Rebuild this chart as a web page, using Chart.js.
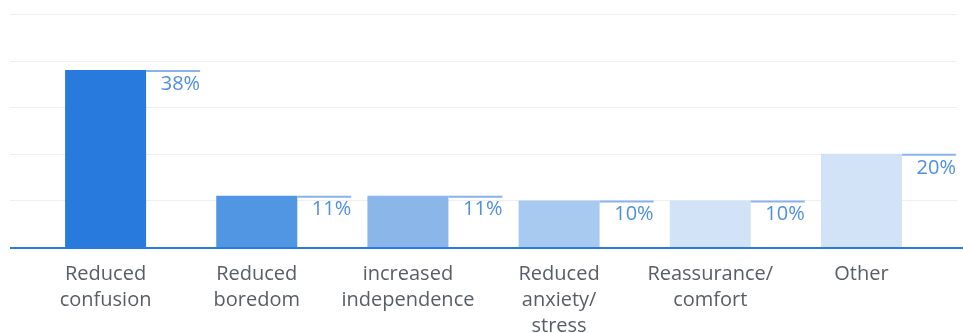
<!DOCTYPE html>
<html>
<head>
<meta charset="utf-8">
<script src="https://cdn.jsdelivr.net/npm/chart.js@4"></script>
<style>
  html, body { margin: 0; padding: 0; background: #fff; }
  .wrap { width: 963px; height: 333px; position: relative; }
</style>
</head>
<body>
<div class="wrap"><canvas id="benefits"></canvas></div>
<script>
// ─── Data ──────────────────────────────────────────────
const categories = [
    ['Reduced', 'confusion'],
    ['Reduced', 'boredom'],
    ['increased', 'independence'],
    ['Reduced', 'anxiety/', 'stress'],
    ['Reassurance/', 'comfort'],
    ['Other']
];
const shares = [38, 11, 11, 10, 10, 20];
const yTicks = [10, 20, 30, 40, 50];

// ─── Style ─────────────────────────────────────────────
const C = {
    bars:     ['#287BDC', '#5096E3', '#8AB6EA', '#A9CAF0', '#D2E3F7', '#D2E3F7'],
    axis:     '#2A7BDC',
    grid:     '#EFEFEF',
    label:    '#4F8FDD',
    leader:   '#8AB4E8',
    tick:     '#575E66',
    family:   "'Open Sans', sans-serif"
};

// horizontal guides and the blue baseline span wider than the bar area
const guides = {
    id: 'guides',
    beforeDatasetsDraw(chart) {
        const { ctx, scales: { y } } = chart;
        ctx.save();
        ctx.strokeStyle = C.grid;
        ctx.lineWidth = 1;
        yTicks.forEach(v => {
            const py = Math.round(y.getPixelForValue(v)) + 0.5;
            ctx.beginPath();
            ctx.moveTo(10, py);
            ctx.lineTo(957, py);
            ctx.stroke();
        });
        ctx.restore();
    },
    afterDatasetsDraw(chart) {
        const { ctx, scales: { y } } = chart;
        const py = y.getPixelForValue(0) + 1;
        ctx.save();
        ctx.strokeStyle = C.axis;
        ctx.lineWidth = 2;
        ctx.beginPath();
        ctx.moveTo(10, py);
        ctx.lineTo(963, py);
        ctx.stroke();
        ctx.restore();
    }
};

// percentage tag: a short rule off the bar top with the value under it
const tags = {
    id: 'tags',
    afterDatasetsDraw(chart) {
        const { ctx } = chart;
        const meta = chart.getDatasetMeta(0);
        ctx.save();
        meta.data.forEach((bar, i) => {
            const right = bar.x + bar.width / 2;
            ctx.strokeStyle = C.leader;
            ctx.lineWidth = 2;
            ctx.beginPath();
            ctx.moveTo(right, bar.y + 1);
            ctx.lineTo(right + 54, bar.y + 1);
            ctx.stroke();
            ctx.fillStyle = C.label;
            ctx.font = `20px ${C.family}`;
            ctx.textAlign = 'right';
            ctx.textBaseline = 'middle';
            ctx.fillText(shares[i] + '%', right + 54, bar.y + 14);
        });
        ctx.restore();
    }
};

new Chart(document.getElementById('benefits').getContext('2d'), {
    type: 'bar',
    data: {
        labels: categories,
        datasets: [{
            data: shares,
            backgroundColor: C.bars,
            borderWidth: 0,
            barPercentage: 0.536,
            categoryPercentage: 1
        }]
    },
    options: {
        responsive: true,
        maintainAspectRatio: false,
        animation: false,
        layout: { padding: { left: 30, right: 26, top: 14, bottom: 0 } },
        plugins: { legend: { display: false }, tooltip: { enabled: false } },
        scales: {
            x: {
                grid: { display: false },
                border: { display: false },
                ticks: {
                    color: C.tick,
                    font: { size: 20, family: C.family, lineHeight: 26 / 20 },
                    padding: 6,
                    maxRotation: 0,
                    autoSkip: false
                },
                afterFit: s => { s.height = 86; }
            },
            y: {
                display: false,
                min: 0,
                max: 50,
                ticks: { stepSize: 10 }
            }
        }
    },
    plugins: [guides, tags]
});
</script>
</body>
</html>
